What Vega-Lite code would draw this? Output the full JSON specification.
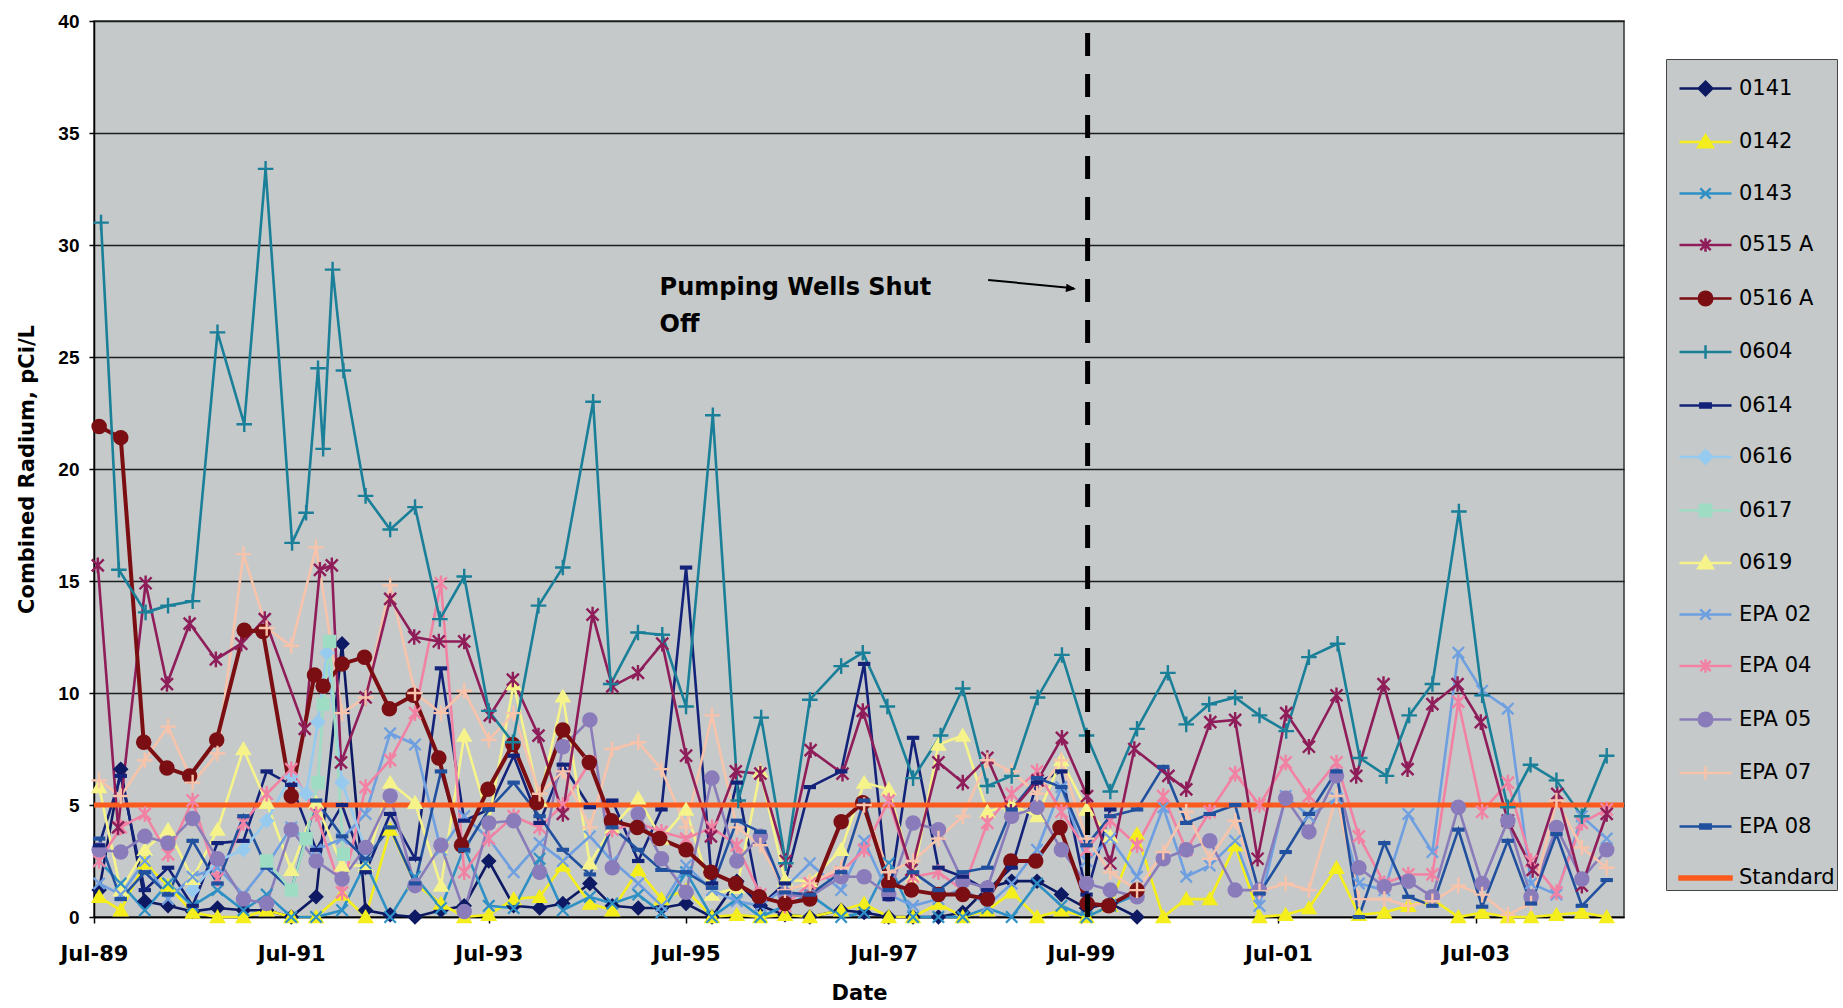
{
  "$schema": "https://vega.github.io/schema/vega-lite/v6.json",
  "width": 1530,
  "height": 896,
  "autosize": "none",
  "padding": {"left": 94, "top": 21, "right": 219, "bottom": 91},
  "background": "#ffffff",
  "config": {
    "view": {"fill": "#c5c9ca", "stroke": "#333333", "strokeWidth": 1.5},
    "axis": {"labelColor": "#000000", "titleColor": "#000000", "domainColor": "#000000", "tickColor": "#000000"}
  },
  "datasets": {
    "w": [
      {"d":"1989-07-20","0141":1.2,"0142":0.9,"0143":2.5,"0614":3.2,"0619":5.8,"EPA 02":1.5,"EPA 04":2.5,"EPA 05":3.0,"EPA 07":6.1,"EPA 08":3.5},
      {"d":"1989-10-08","0141":6.6,"0142":0.3,"0143":1.5,"0614":6.3,"0619":1.2,"EPA 02":1.0,"EPA 04":4.0,"EPA 05":2.9,"EPA 07":5.4,"EPA 08":0.8},
      {"d":"1990-01-05","0141":0.7,"0142":2.4,"0143":0.3,"0614":1.2,"0619":3.0,"EPA 02":2.5,"EPA 04":4.6,"EPA 05":3.6,"EPA 07":7.0,"EPA 08":2.0},
      {"d":"1990-04-01","0141":0.5,"0142":1.4,"0143":1.5,"0614":2.2,"0619":3.9,"EPA 02":0.8,"EPA 04":2.8,"EPA 05":3.3,"EPA 07":8.5,"EPA 08":1.0},
      {"d":"1990-07-01","0141":0.25,"0142":0.2,"0143":0.5,"0614":0.5,"0619":1.7,"EPA 02":1.8,"EPA 04":5.2,"EPA 05":4.4,"EPA 07":6.0,"EPA 08":3.4},
      {"d":"1990-10-01","0141":0.4,"0142":0.0,"0143":1.2,"0614":3.3,"0619":3.9,"EPA 02":2.2,"EPA 04":1.7,"EPA 05":2.6,"EPA 07":7.3,"EPA 08":1.5},
      {"d":"1991-01-05","0141":0.3,"0142":0.0,"0143":0.3,"0614":3.4,"0619":7.5,"EPA 02":1.0,"EPA 04":4.2,"EPA 05":0.8,"EPA 07":16.2,"EPA 08":4.5},
      {"d":"1991-04-01","0141":0.3,"0142":0.3,"0143":1.0,"0614":6.5,"0619":5.1,"EPA 02":2.3,"EPA 04":5.5,"EPA 05":0.6,"EPA 07":12.9,"EPA 08":2.2},
      {"d":"1991-07-01","0141":0.0,"0142":0.0,"0143":0.0,"0614":5.9,"0619":2.1,"EPA 02":4.0,"EPA 04":6.6,"EPA 05":3.9,"EPA 07":12.1,"EPA 08":1.2},
      {"d":"1991-10-01","0141":0.9,"0142":0.0,"0143":0.0,"0614":3.0,"0619":5.1,"EPA 02":3.0,"EPA 04":4.6,"EPA 05":2.5,"EPA 07":16.5,"EPA 08":5.2},
      {"d":"1992-01-05","0141":12.2,"0142":1.0,"0143":0.3,"0614":5.0,"0619":2.3,"EPA 02":3.5,"EPA 04":1.1,"EPA 05":1.7,"EPA 07":9.1,"EPA 08":3.6},
      {"d":"1992-04-01","0141":0.3,"0142":0.0,"0143":2.4,"0614":2.0,"0619":2.3,"EPA 02":4.6,"EPA 04":5.8,"EPA 05":3.1,"EPA 07":9.8,"EPA 08":2.6},
      {"d":"1992-07-01","0141":0.1,"0142":3.9,"0143":0.0,"0614":4.6,"0619":6.0,"EPA 02":8.2,"EPA 04":7.0,"EPA 05":5.4,"EPA 07":14.8,"EPA 08":4.0},
      {"d":"1992-10-01","0141":0.0,"0142":1.5,"0143":1.8,"0614":2.6,"0619":5.1,"EPA 02":7.7,"EPA 04":9.1,"EPA 05":1.4,"EPA 07":10.0,"EPA 08":1.5},
      {"d":"1993-01-05","0141":0.3,"0142":0.6,"0143":0.4,"0614":11.1,"0619":1.4,"EPA 02":3.0,"EPA 04":14.9,"EPA 05":3.2,"EPA 07":9.1,"EPA 08":6.5},
      {"d":"1993-04-01","0141":0.5,"0142":0.0,"0143":3.1,"0614":4.3,"0619":8.1,"EPA 02":4.5,"EPA 04":2.0,"EPA 05":0.25,"EPA 07":10.1,"EPA 08":3.0},
      {"d":"1993-07-01","0141":2.5,"0142":0.1,"0143":0.5,"0614":4.8,"0619":4.3,"EPA 02":3.5,"EPA 04":3.5,"EPA 05":4.2,"EPA 07":7.9,"EPA 08":4.8},
      {"d":"1993-10-01","0141":0.5,"0142":0.8,"0143":0.4,"0614":7.2,"0619":10.4,"EPA 02":2.0,"EPA 04":4.5,"EPA 05":4.3,"EPA 07":9.1,"EPA 08":6.0},
      {"d":"1994-01-05","0141":0.4,"0142":0.9,"0143":2.6,"0614":4.2,"0619":5.2,"EPA 02":3.3,"EPA 04":4.0,"EPA 05":2.0,"EPA 07":5.5,"EPA 08":4.5},
      {"d":"1994-04-01","0141":0.6,"0142":2.3,"0143":0.3,"0614":6.8,"0619":9.85,"EPA 02":2.5,"EPA 04":5.0,"EPA 05":7.6,"EPA 07":6.5,"EPA 08":3.0},
      {"d":"1994-07-10","0141":1.5,"0142":0.6,"0143":0.9,"0614":4.9,"0619":2.4,"EPA 02":3.6,"EPA 04":6.9,"EPA 05":8.8,"EPA 07":4.0,"EPA 08":1.9},
      {"d":"1994-10-01","0141":0.5,"0142":0.3,"0143":0.6,"0614":5.2,"0619":4.0,"EPA 02":2.5,"EPA 04":3.9,"EPA 05":2.2,"EPA 07":7.5,"EPA 08":4.0},
      {"d":"1995-01-05","0141":0.4,"0142":2.1,"0143":1.0,"0614":2.5,"0619":5.3,"EPA 02":1.5,"EPA 04":4.2,"EPA 05":4.6,"EPA 07":7.8,"EPA 08":3.0},
      {"d":"1995-04-01","0141":0.4,"0142":0.8,"0143":0.2,"0614":4.8,"0619":3.5,"EPA 02":0.5,"EPA 04":3.8,"EPA 05":2.6,"EPA 07":6.6,"EPA 08":2.1},
      {"d":"1995-07-01","0141":0.6,"0142":1.2,"0143":2.0,"0614":15.6,"0619":4.8,"EPA 02":2.3,"EPA 04":3.5,"EPA 05":1.1,"EPA 07":4.0,"EPA 08":2.0},
      {"d":"1995-10-05","0141":0.0,"0142":0.0,"0143":0.0,"0614":1.5,"0619":1.0,"EPA 02":1.2,"EPA 04":4.0,"EPA 05":6.2,"EPA 07":9.0,"EPA 08":1.3},
      {"d":"1996-01-05","0141":1.6,"0142":0.1,"0143":0.8,"0614":6.0,"0619":1.3,"EPA 02":0.7,"EPA 04":3.2,"EPA 05":2.5,"EPA 07":4.0,"EPA 08":4.3},
      {"d":"1996-04-01","0141":0.5,"0142":0.0,"0143":0.0,"0614":0.5,"0619":6.5,"EPA 02":0.5,"EPA 04":1.0,"EPA 05":3.6,"EPA 07":3.2,"EPA 08":3.8},
      {"d":"1996-07-01","0141":0.1,"0142":0.1,"0143":0.5,"0614":1.5,"0619":1.65,"EPA 02":1.3,"EPA 04":0.5,"EPA 05":1.0,"EPA 07":1.2,"EPA 08":1.1},
      {"d":"1996-10-01","0141":0.0,"0142":0.0,"0143":1.0,"0614":5.8,"0619":1.6,"EPA 02":2.4,"EPA 04":1.5,"EPA 05":0.9,"EPA 07":1.5,"EPA 08":1.0},
      {"d":"1997-01-25","0141":0.3,"0142":0.3,"0143":0.0,"0614":6.5,"0619":3.0,"EPA 02":1.2,"EPA 04":2.0,"EPA 05":1.8,"EPA 07":2.2,"EPA 08":2.0},
      {"d":"1997-04-20","0141":0.2,"0142":0.6,"0143":0.2,"0614":11.3,"0619":6.0,"EPA 02":3.4,"EPA 04":3.0,"EPA 05":1.8,"EPA 07":5.0,"EPA 08":5.2},
      {"d":"1997-07-20","0141":0.0,"0142":0.0,"0143":2.4,"0614":0.8,"0619":5.7,"EPA 02":1.0,"EPA 04":5.2,"EPA 05":1.0,"EPA 07":2.0,"EPA 08":1.2},
      {"d":"1997-10-18","0141":0.0,"0142":0.0,"0143":0.0,"0614":8.0,"0619":1.8,"EPA 02":0.5,"EPA 04":1.8,"EPA 05":4.2,"EPA 07":2.5,"EPA 08":2.0},
      {"d":"1998-01-20","0141":0.0,"0142":0.6,"0143":0.0,"0614":2.2,"0619":7.7,"EPA 02":0.8,"EPA 04":2.0,"EPA 05":3.9,"EPA 07":3.5,"EPA 08":1.2},
      {"d":"1998-04-20","0141":0.2,"0142":0.0,"0143":0.0,"0614":1.8,"0619":8.1,"EPA 02":1.3,"EPA 04":1.2,"EPA 05":1.6,"EPA 07":4.5,"EPA 08":2.0},
      {"d":"1998-07-20","0141":1.3,"0142":0.3,"0143":0.4,"0614":1.2,"0619":4.7,"EPA 02":0.5,"EPA 04":4.2,"EPA 05":1.3,"EPA 07":7.0,"EPA 08":2.2},
      {"d":"1998-10-18","0141":1.6,"0142":1.1,"0143":0.0,"0614":2.2,"0619":5.0,"EPA 02":1.5,"EPA 04":5.5,"EPA 05":4.5,"EPA 07":6.5,"EPA 08":4.8},
      {"d":"1999-01-20","0141":1.6,"0142":0.0,"0143":1.5,"0614":6.0,"0619":4.5,"EPA 02":3.0,"EPA 04":6.5,"EPA 05":4.9,"EPA 07":5.5,"EPA 08":6.2},
      {"d":"1999-04-20","0141":1.0,"0142":0.3,"0143":0.5,"0614":6.5,"0619":7.0,"EPA 02":5.8,"EPA 04":4.7,"EPA 05":3.0,"EPA 07":7.0,"EPA 08":5.8},
      {"d":"1999-07-22","0141":0.4,"0142":0.0,"0143":0.0,"0614":1.0,"0619":4.8,"EPA 02":2.5,"EPA 04":3.0,"EPA 05":1.5,"EPA 07":3.5,"EPA 08":3.2},
      {"d":"1999-10-18","0141":0.6,"0142":0.5,"0143":0.5,"0614":4.8,"0619":3.6,"EPA 02":3.5,"EPA 04":4.3,"EPA 05":1.2,"EPA 07":2.0,"EPA 08":4.5},
      {"d":"2000-01-25","0141":0.0,"0142":3.7,"0143":1.0,"EPA 02":1.8,"EPA 04":3.2,"EPA 05":0.9,"EPA 07":1.2,"EPA 08":4.8},
      {"d":"2000-05-01","0142":0.0,"EPA 02":4.9,"EPA 04":5.4,"EPA 05":2.6,"EPA 07":2.9,"EPA 08":6.7},
      {"d":"2000-07-25","0142":0.8,"EPA 02":1.8,"EPA 04":3.0,"EPA 05":3.0,"EPA 07":4.7,"EPA 08":4.2},
      {"d":"2000-10-20","0142":0.8,"EPA 02":2.3,"EPA 04":4.7,"EPA 05":3.4,"EPA 07":2.6,"EPA 08":4.6},
      {"d":"2001-01-22","0142":3.2,"EPA 02":3.4,"EPA 04":6.4,"EPA 05":1.2,"EPA 07":4.3,"EPA 08":5.0},
      {"d":"2001-04-22","0142":0.0,"EPA 02":0.5,"EPA 04":5.0,"EPA 05":1.2,"EPA 07":1.15,"EPA 08":1.05},
      {"d":"2001-07-28","0142":0.1,"EPA 02":5.4,"EPA 04":6.9,"EPA 05":5.3,"EPA 07":1.5,"EPA 08":2.9},
      {"d":"2001-10-22","0142":0.4,"EPA 02":4.5,"EPA 04":5.4,"EPA 05":3.8,"EPA 07":1.2,"EPA 08":4.6},
      {"d":"2002-02-01","0142":2.2,"EPA 02":5.3,"EPA 04":6.9,"EPA 05":6.3,"EPA 07":5.4,"EPA 08":6.5},
      {"d":"2002-04-25","0142":0.1,"EPA 02":1.5,"EPA 04":3.6,"EPA 05":2.2,"EPA 07":0.8,"EPA 08":0.0},
      {"d":"2002-07-28","0142":0.2,"EPA 02":1.2,"EPA 04":1.5,"EPA 05":1.35,"EPA 07":0.8,"EPA 08":3.3},
      {"d":"2002-10-25","0142":0.5,"EPA 02":4.6,"EPA 04":1.9,"EPA 05":1.6,"EPA 07":0.5,"EPA 08":0.9},
      {"d":"2003-01-22","0142":0.8,"EPA 02":2.9,"EPA 04":1.9,"EPA 05":0.9,"EPA 07":0.7,"EPA 08":0.5},
      {"d":"2003-04-28","0142":0.0,"EPA 02":11.8,"EPA 04":9.6,"EPA 05":4.9,"EPA 07":1.4,"EPA 08":3.9},
      {"d":"2003-07-25","0142":0.2,"EPA 02":10.1,"EPA 04":4.7,"EPA 05":1.5,"EPA 07":1.0,"EPA 08":0.46},
      {"d":"2003-10-28","0142":0.0,"EPA 02":9.3,"EPA 04":6.0,"EPA 05":4.3,"EPA 07":0.1,"EPA 08":3.4},
      {"d":"2004-01-22","0142":0.0,"EPA 02":1.5,"EPA 04":2.5,"EPA 05":0.9,"EPA 07":0.6,"EPA 08":0.6},
      {"d":"2004-04-25","0142":0.1,"EPA 02":1.0,"EPA 04":1.1,"EPA 05":4.0,"EPA 07":5.2,"EPA 08":3.7},
      {"d":"2004-07-28","0142":0.2,"EPA 02":4.5,"EPA 04":4.2,"EPA 05":1.7,"EPA 07":3.1,"EPA 08":0.5},
      {"d":"2004-10-28","0142":0.0,"EPA 02":3.5,"EPA 04":4.8,"EPA 05":3.0,"EPA 07":2.2,"EPA 08":1.65},
      {"d":"1989-07-15","0515 A":15.7},{"d":"1989-09-28","0515 A":4.0},{"d":"1990-01-08","0515 A":14.9},{"d":"1990-03-28","0515 A":10.4},{"d":"1990-06-20","0515 A":13.1},{"d":"1990-09-25","0515 A":11.5},{"d":"1990-12-28","0515 A":12.2},{"d":"1991-03-25","0515 A":13.3},{"d":"1991-08-20","0515 A":8.4},{"d":"1991-10-15","0515 A":15.5},{"d":"1991-11-28","0515 A":15.7},{"d":"1992-01-01","0515 A":6.9},{"d":"1992-04-01","0515 A":9.8},{"d":"1992-07-01","0515 A":14.2},{"d":"1992-09-28","0515 A":12.5},{"d":"1992-12-28","0515 A":12.3},{"d":"1993-04-01","0515 A":12.3},{"d":"1993-07-05","0515 A":9.0},{"d":"1993-09-28","0515 A":10.6},{"d":"1994-01-01","0515 A":8.1},{"d":"1994-04-01","0515 A":4.6},{"d":"1994-07-20","0515 A":13.5},{"d":"1994-10-01","0515 A":10.3},{"d":"1995-01-04","0515 A":10.9},{"d":"1995-04-04","0515 A":12.2},{"d":"1995-07-01","0515 A":7.2},{"d":"1995-10-01","0515 A":3.6},{"d":"1996-01-01","0515 A":6.5},{"d":"1996-04-01","0515 A":6.4},{"d":"1996-07-04","0515 A":2.5},{"d":"1996-10-04","0515 A":7.45},{"d":"1997-01-30","0515 A":6.4},{"d":"1997-04-15","0515 A":9.2},{"d":"1997-10-12","0515 A":2.1},{"d":"1998-01-20","0515 A":6.9},{"d":"1998-04-20","0515 A":6.0},{"d":"1998-07-20","0515 A":7.1},{"d":"1998-10-15","0515 A":4.7},{"d":"1999-01-22","0515 A":6.1},{"d":"1999-04-22","0515 A":8.0},{"d":"1999-07-24","0515 A":5.4},{"d":"1999-10-18","0515 A":2.4},{"d":"2000-01-15","0515 A":7.5},{"d":"2000-05-20","0515 A":6.3},{"d":"2000-07-25","0515 A":5.7},{"d":"2000-10-22","0515 A":8.7},{"d":"2001-01-22","0515 A":8.8},{"d":"2001-04-15","0515 A":2.6},{"d":"2001-07-30","0515 A":9.1},{"d":"2001-10-22","0515 A":7.6},{"d":"2002-02-01","0515 A":9.9},{"d":"2002-04-15","0515 A":6.3},{"d":"2002-07-25","0515 A":10.4},{"d":"2002-10-22","0515 A":6.6},{"d":"2003-01-22","0515 A":9.5},{"d":"2003-04-25","0515 A":10.4},{"d":"2003-07-20","0515 A":8.7},{"d":"2003-10-28","0515 A":4.3},{"d":"2004-01-28","0515 A":2.1},{"d":"2004-04-28","0515 A":5.5},{"d":"2004-07-28","0515 A":1.4},{"d":"2004-10-28","0515 A":4.6},
      {"d":"1989-07-20","0516 A":21.9},{"d":"1989-10-08","0516 A":21.4},{"d":"1990-01-01","0516 A":7.8},{"d":"1990-03-28","0516 A":6.65},{"d":"1990-06-20","0516 A":6.3},{"d":"1990-09-28","0516 A":7.9},{"d":"1991-01-08","0516 A":12.8},{"d":"1991-03-18","0516 A":12.75},{"d":"1991-07-01","0516 A":5.4},{"d":"1991-09-25","0516 A":10.8},{"d":"1991-10-27","0516 A":10.3},{"d":"1992-01-05","0516 A":11.3},{"d":"1992-03-28","0516 A":11.6},{"d":"1992-06-28","0516 A":9.3},{"d":"1992-09-25","0516 A":9.9},{"d":"1992-12-28","0516 A":7.1},{"d":"1993-03-22","0516 A":3.2},{"d":"1993-06-28","0516 A":5.7},{"d":"1993-09-28","0516 A":7.7},{"d":"1993-12-25","0516 A":5.1},{"d":"1994-04-01","0516 A":8.35},{"d":"1994-07-08","0516 A":6.9},{"d":"1994-09-28","0516 A":4.3},{"d":"1995-01-01","0516 A":4.0},{"d":"1995-03-25","0516 A":3.5},{"d":"1995-07-01","0516 A":3.0},{"d":"1995-10-01","0516 A":2.0},{"d":"1996-01-01","0516 A":1.5},{"d":"1996-03-28","0516 A":0.9},{"d":"1996-07-01","0516 A":0.6},{"d":"1996-10-01","0516 A":0.8},{"d":"1997-01-25","0516 A":4.25},{"d":"1997-04-15","0516 A":5.1},{"d":"1997-07-20","0516 A":1.5},{"d":"1997-10-12","0516 A":1.2},{"d":"1998-01-20","0516 A":1.0},{"d":"1998-04-20","0516 A":1.0},{"d":"1998-07-20","0516 A":0.8},{"d":"1998-10-15","0516 A":2.5},{"d":"1999-01-15","0516 A":2.5},{"d":"1999-04-15","0516 A":4.0},{"d":"1999-07-24","0516 A":0.6},{"d":"1999-10-12","0516 A":0.5},{"d":"2000-01-25","0516 A":1.2},
      {"d":"1989-07-27","0604":31.0},{"d":"1989-10-01","0604":15.5},{"d":"1990-01-08","0604":13.6},{"d":"1990-04-01","0604":13.9},{"d":"1990-07-01","0604":14.1},{"d":"1990-10-01","0604":26.1},{"d":"1991-01-08","0604":22.0},{"d":"1991-03-28","0604":33.4},{"d":"1991-07-04","0604":16.7},{"d":"1991-08-25","0604":18.05},{"d":"1991-10-08","0604":24.5},{"d":"1991-10-27","0604":20.9},{"d":"1991-12-01","0604":28.9},{"d":"1992-01-10","0604":24.4},{"d":"1992-04-01","0604":18.8},{"d":"1992-07-01","0604":17.3},{"d":"1992-10-01","0604":18.3},{"d":"1993-01-01","0604":13.3},{"d":"1993-04-01","0604":15.2},{"d":"1993-07-01","0604":9.2},{"d":"1993-09-28","0604":7.8},{"d":"1994-01-01","0604":13.9},{"d":"1994-04-01","0604":15.6},{"d":"1994-07-22","0604":23.0},{"d":"1994-09-25","0604":10.4},{"d":"1995-01-04","0604":12.7},{"d":"1995-04-04","0604":12.6},{"d":"1995-07-01","0604":9.4},{"d":"1995-10-08","0604":22.4},{"d":"1996-01-10","0604":5.2},{"d":"1996-04-04","0604":8.9},{"d":"1996-07-04","0604":2.4},{"d":"1996-10-01","0604":9.7},{"d":"1997-01-25","0604":11.2},{"d":"1997-04-15","0604":11.8},{"d":"1997-07-15","0604":9.4},{"d":"1997-10-18","0604":6.2},{"d":"1998-01-28","0604":8.1},{"d":"1998-04-20","0604":10.2},{"d":"1998-07-20","0604":5.85},{"d":"1998-10-18","0604":6.3},{"d":"1999-01-22","0604":9.8},{"d":"1999-04-22","0604":11.7},{"d":"1999-07-22","0604":8.1},{"d":"1999-10-18","0604":5.6},{"d":"2000-01-25","0604":8.4},{"d":"2000-05-18","0604":10.9},{"d":"2000-07-25","0604":8.6},{"d":"2000-10-18","0604":9.5},{"d":"2001-01-22","0604":9.8},{"d":"2001-04-22","0604":9.0},{"d":"2001-07-30","0604":8.3},{"d":"2001-10-22","0604":11.6},{"d":"2002-02-05","0604":12.2},{"d":"2002-04-28","0604":7.1},{"d":"2002-08-05","0604":6.3},{"d":"2002-10-28","0604":9.0},{"d":"2003-01-22","0604":10.4},{"d":"2003-04-30","0604":18.1},{"d":"2003-07-25","0604":9.9},{"d":"2003-10-28","0604":4.9},{"d":"2004-01-20","0604":6.8},{"d":"2004-04-25","0604":6.1},{"d":"2004-07-28","0604":4.5},{"d":"2004-10-28","0604":7.2},
      {"d":"1990-07-01","0616":1.2},{"d":"1990-10-01","0616":2.5},{"d":"1991-01-05","0616":3.0},{"d":"1991-04-01","0616":4.3},{"d":"1991-07-01","0616":6.3},{"d":"1991-08-25","0616":5.5},{"d":"1991-10-08","0616":8.7},{"d":"1991-11-10","0616":11.8},{"d":"1992-01-05","0616":6.0},{"d":"1992-04-01","0616":3.0},
      {"d":"1991-04-01","0617":2.5},{"d":"1991-07-01","0617":1.2},{"d":"1991-08-25","0617":3.5},{"d":"1991-10-08","0617":6.0},{"d":"1991-10-27","0617":9.5},{"d":"1991-11-20","0617":12.3},{"d":"1992-01-10","0617":2.8},
      {"d":"1989-07-01","Standard":5},{"d":"2004-12-31","Standard":5}
    ]
  },
  "encoding": {
    "x": {
      "field": "d", "type": "temporal",
      "scale": {"domain": [{"year": 1989, "month": 7, "date": 1}, {"year": 2004, "month": 12, "date": 31}]},
      "axis": {
        "values": [{"year": 1989, "month": 7, "date": 1}, {"year": 1991, "month": 7, "date": 1}, {"year": 1993, "month": 7, "date": 1}, {"year": 1995, "month": 7, "date": 1}, {"year": 1997, "month": 7, "date": 1}, {"year": 1999, "month": 7, "date": 1}, {"year": 2001, "month": 7, "date": 1}, {"year": 2003, "month": 7, "date": 1}],
        "format": "%b-%y", "labelFont": "DejaVu Sans", "labelFontSize": 21, "labelFontWeight": "bold",
        "labelPadding": 20, "tickSize": 6, "tickWidth": 1.5, "domainWidth": 1.5, "grid": false,
        "labelFlush": false, "labelOverlap": false,
        "title": "Date", "titleFont": "DejaVu Sans", "titleFontSize": 21, "titleFontWeight": "bold", "titlePadding": 18
      }
    },
    "y": {
      "field": "v", "type": "quantitative",
      "scale": {"domain": [0, 40], "nice": false},
      "axis": {
        "values": [0, 5, 10, 15, 20, 25, 30, 35, 40],
        "labelFont": "Liberation Sans", "labelFontSize": 19, "labelFontWeight": "bold", "labelPadding": 10,
        "tickSize": 5, "tickWidth": 1.5, "domainWidth": 1.5,
        "grid": true, "gridColor": "#1e1e1e", "gridWidth": 1.3,
        "title": "Combined Radium, pCi/L", "titleFont": "DejaVu Sans", "titleFontSize": 21, "titleFontWeight": "bold", "titlePadding": 20
      }
    }
  },
  "layer": [
    {
      "data": {"name": "w"},
      "transform": [{"fold": ["0141", "0142", "0143", "0515 A", "0516 A", "0604", "0614", "0616", "0617", "0619", "EPA 02", "EPA 04", "EPA 05", "EPA 07", "EPA 08", "Standard"], "as": ["s", "v"]}, {"filter": "false"}],
      "mark": {"type": "point", "filled": true, "opacity": 1, "strokeWidth": 2.5},
      "encoding": {
        "color": {
          "field": "s", "type": "nominal",
          "scale": {
            "domain": ["0141", "0142", "0143", "0515 A", "0516 A", "0604", "0614", "0616", "0617", "0619", "EPA 02", "EPA 04", "EPA 05", "EPA 07", "EPA 08", "Standard"],
            "range": ["#0d1a63", "#f3ee1c", "#2e90c5", "#8e1d5a", "#7a0e12", "#1a7f98", "#13237a", "#96cbef", "#9fdcc4", "#f5f38a", "#6e9fe0", "#f282a3", "#8a7cba", "#f7c3ab", "#21509f", "#fb5a1e"]
          },
          "legend": {
            "orient": "none", "legendX": 1572, "legendY": 38, "title": null,
            "padding": 2, "rowPadding": 13.5, "symbolSize": 2704, "symbolOffset": 10, "symbolStrokeWidth": 2.5, "symbolOpacity": 1,
            "labelFont": "DejaVu Sans", "labelFontSize": 21, "labelColor": "#000000", "labelOffset": 6, "labelLimit": 300,
            "fillColor": "#c5c9ca", "strokeColor": "#444444"
          }
        },
        "shape": {
          "field": "s", "type": "nominal",
          "scale": {
            "domain": ["0141", "0142", "0143", "0515 A", "0516 A", "0604", "0614", "0616", "0617", "0619", "EPA 02", "EPA 04", "EPA 05", "EPA 07", "EPA 08", "Standard"],
            "range": ["M-1,0H1M0,-0.26L0.26,0L0,0.26L-0.26,0Z", "M-1,0H1M0,-0.26L0.28,0.2L-0.28,0.2Z", "M-1,0H1M-0.2,-0.2L0.2,0.2M-0.2,0.2L0.2,-0.2", "M-1,0H1M-0.2,-0.2L0.2,0.2M-0.2,0.2L0.2,-0.2M0,-0.26V0.26", "M-1,0H1M0.26,0A0.26,0.26,0,1,1,-0.26,0A0.26,0.26,0,1,1,0.26,0Z", "M-1,0H1M0,-0.26V0.26", "M-1,0H1M-0.2,-0.08H0.2V0.08H-0.2Z", "M-1,0H1M0,-0.26L0.26,0L0,0.26L-0.26,0Z", "M-1,0H1M-0.22,-0.22H0.22V0.22H-0.22Z", "M-1,0H1M0,-0.26L0.28,0.2L-0.28,0.2Z", "M-1,0H1M-0.2,-0.2L0.2,0.2M-0.2,0.2L0.2,-0.2", "M-1,0H1M-0.2,-0.2L0.2,0.2M-0.2,0.2L0.2,-0.2M0,-0.26V0.26", "M-1,0H1M0.26,0A0.26,0.26,0,1,1,-0.26,0A0.26,0.26,0,1,1,0.26,0Z", "M-1,0H1M0,-0.26V0.26", "M-1,0H1M-0.2,-0.08H0.2V0.08H-0.2Z", "M-1,-0.06H1V0.06H-1Z"]
          },
          "legend": {
            "orient": "none", "legendX": 1572, "legendY": 38, "title": null,
            "padding": 2, "rowPadding": 13.5, "symbolSize": 2704, "symbolOffset": 10, "symbolStrokeWidth": 2.5, "symbolOpacity": 1,
            "labelFont": "DejaVu Sans", "labelFontSize": 21, "labelColor": "#000000", "labelOffset": 6, "labelLimit": 300,
            "fillColor": "#c5c9ca", "strokeColor": "#444444"
          }
        }
      }
    },
    {
      "data": {"name": "w"},
      "transform": [{"fold": ["0141", "0142", "0143", "0515 A", "0516 A", "0604", "0614", "0616", "0617", "0619", "EPA 02", "EPA 04", "EPA 05", "EPA 07", "EPA 08", "Standard"], "as": ["s", "v"]}, {"filter": "isValid(datum.v) && datum.s !== 'Standard'"}],
      "mark": {"type": "line"},
      "encoding": {
        "color": {"field": "s", "type": "nominal"},
        "strokeWidth": {"condition": {"test": "datum.s === '0516 A'", "value": 4}, "value": 2.6}
      }
    },
    {
      "data": {"name": "w"},
      "transform": [{"fold": ["Standard"], "as": ["s", "v"]}, {"filter": "isValid(datum.v)"}],
      "mark": {"type": "line", "strokeWidth": 5},
      "encoding": {"color": {"field": "s", "type": "nominal"}}
    },
    {
      "data": {"name": "w"},
      "transform": [{"fold": ["0141", "0616"], "as": ["s", "v"]}, {"filter": "isValid(datum.v)"}],
      "mark": {"type": "point", "shape": "M0,-1.1L1.1,0L0,1.1L-1.1,0Z", "filled": true, "size": 200, "opacity": 1},
      "encoding": {"color": {"field": "s", "type": "nominal"}}
    },
    {
      "data": {"name": "w"},
      "transform": [{"fold": ["0142", "0619"], "as": ["s", "v"]}, {"filter": "isValid(datum.v)"}],
      "mark": {"type": "point", "shape": "M0,-1.1L1.15,0.85L-1.15,0.85Z", "filled": true, "size": 210, "opacity": 1},
      "encoding": {"color": {"field": "s", "type": "nominal"}}
    },
    {
      "data": {"name": "w"},
      "transform": [{"fold": ["0143", "EPA 02"], "as": ["s", "v"]}, {"filter": "isValid(datum.v)"}],
      "mark": {"type": "point", "shape": "M-0.85,-0.85L0.85,0.85M-0.85,0.85L0.85,-0.85", "filled": false, "size": 180, "strokeWidth": 2.2, "opacity": 1},
      "encoding": {"color": {"field": "s", "type": "nominal"}}
    },
    {
      "data": {"name": "w"},
      "transform": [{"fold": ["0515 A", "EPA 04"], "as": ["s", "v"]}, {"filter": "isValid(datum.v)"}],
      "mark": {"type": "point", "shape": "M-0.85,-0.85L0.85,0.85M-0.85,0.85L0.85,-0.85M0,-1.1V1.1", "filled": false, "size": 200, "strokeWidth": 2.4, "opacity": 1},
      "encoding": {"color": {"field": "s", "type": "nominal"}}
    },
    {
      "data": {"name": "w"},
      "transform": [{"fold": ["0516 A", "EPA 05"], "as": ["s", "v"]}, {"filter": "isValid(datum.v)"}],
      "mark": {"type": "point", "shape": "circle", "filled": true, "size": 240, "opacity": 1},
      "encoding": {"color": {"field": "s", "type": "nominal"}}
    },
    {
      "data": {"name": "w"},
      "transform": [{"fold": ["0604", "EPA 07"], "as": ["s", "v"]}, {"filter": "isValid(datum.v)"}],
      "mark": {"type": "point", "shape": "M-1.1,0H1.1M0,-1.1V1.1", "filled": false, "size": 200, "strokeWidth": 2.4, "opacity": 1},
      "encoding": {"color": {"field": "s", "type": "nominal"}}
    },
    {
      "data": {"name": "w"},
      "transform": [{"fold": ["0614", "EPA 08"], "as": ["s", "v"]}, {"filter": "isValid(datum.v)"}],
      "mark": {"type": "point", "shape": "M-0.9,-0.3H0.9V0.3H-0.9Z", "filled": true, "size": 190, "opacity": 1},
      "encoding": {"color": {"field": "s", "type": "nominal"}}
    },
    {
      "data": {"name": "w"},
      "transform": [{"fold": ["0617"], "as": ["s", "v"]}, {"filter": "isValid(datum.v)"}],
      "mark": {"type": "point", "shape": "square", "filled": true, "size": 180, "opacity": 1},
      "encoding": {"color": {"field": "s", "type": "nominal"}}
    },
    {
      "data": {"values": [{"d": "1999-07-26", "v": 0, "v2": 40}]},
      "mark": {"type": "rule", "color": "#000000", "strokeWidth": 5, "strokeDash": [23, 18]},
      "encoding": {"y2": {"field": "v2"}}
    },
    {
      "data": {"values": [{"d": "1995-03-25", "v": 27.77, "t": "Pumping Wells Shut\nOff"}]},
      "mark": {"type": "text", "align": "left", "baseline": "alphabetic", "font": "DejaVu Sans", "fontSize": 24, "fontWeight": "bold", "lineBreak": "\n", "lineHeight": 37, "color": "#000000"},
      "encoding": {"text": {"field": "t"}}
    },
    {
      "data": {"values": [{"d": "1998-07-23", "v": 28.44}, {"d": "1999-06-05", "v": 28.07}]},
      "mark": {"type": "line", "color": "#000000", "strokeWidth": 2},
      "encoding": {}
    },
    {
      "data": {"values": [{"d": "1999-06-13", "v": 28.04}]},
      "mark": {"type": "point", "shape": "M0,0L-2,-0.85L-2,0.85Z", "size": 100, "filled": true, "color": "#000000", "opacity": 1, "angle": 6},
      "encoding": {}
    }
  ]
}
